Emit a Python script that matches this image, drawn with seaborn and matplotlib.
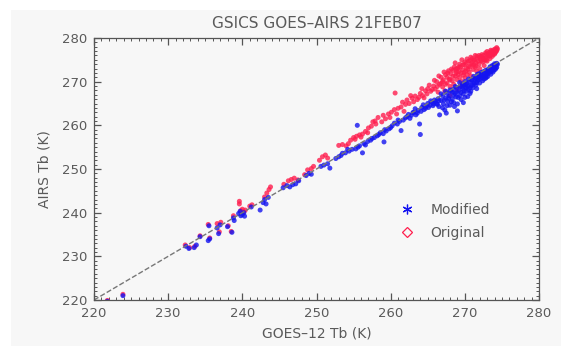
import numpy as np
import pandas as pd
import seaborn as sns
import matplotlib
matplotlib.use("Agg")
import matplotlib.pyplot as plt
from matplotlib.lines import Line2D
from matplotlib.patches import Rectangle
from matplotlib.ticker import MultipleLocator

# ---------------- data (Kelvin) ----------------
mod_x = [221.8, 223.9, 232.4, 232.8, 233.5, 233.8, 234.3, 235.4, 235.6, 235.5, 236.6, 236.8, 237.0,
         238.0, 238.6, 238.8, 238.9, 239.5, 239.8, 240.0, 240.2, 240.3, 239.7, 241.2, 242.4, 242.8,
         243.0, 243.2, 243.5, 245.5, 246.0, 246.4, 246.8, 247.2, 247.6, 248.6, 249.0, 249.3, 250.6,
         251.0, 251.5, 251.8, 252.6, 253.0, 253.5, 253.9, 254.4, 254.8, 255.3, 255.5, 255.8, 256.2,
         256.4, 256.9, 257.3, 257.8, 258.2, 258.6, 259.0, 259.1, 259.4, 259.8, 260.2, 260.5, 260.9,
         261.2, 261.4, 261.7, 262.0, 262.4, 262.8, 263.1, 263.4, 263.7, 263.9, 264.0, 264.2, 264.5,
         264.8, 265.0, 265.3, 265.6, 265.9,
         266.2, 266.4, 266.5, 266.6, 266.8, 267.0, 267.1, 267.3, 267.4, 267.6, 267.7, 267.9, 268.0,
         268.1, 268.3, 268.4, 268.5, 268.7, 268.8, 268.9, 269.0, 269.2, 269.3, 269.4, 269.5, 269.7,
         269.8, 269.9, 270.0, 270.1, 270.2, 270.3, 270.5, 270.6, 270.7, 270.8, 271.0, 271.1, 271.2,
         271.4, 271.5, 271.6, 271.7, 271.9, 272.0, 272.1, 272.2, 272.4, 272.5, 272.6, 272.8, 272.9,
         273.0, 273.1, 273.3, 273.4, 273.5, 273.6, 273.7, 273.8, 273.9, 274.0, 274.1, 274.2, 274.3,
         274.3, 274.4, 269.0, 267.5,
         274.0, 273.8, 273.6, 273.4, 273.2, 273.0, 272.8, 272.7, 272.5, 272.3, 272.2, 272.0, 271.8,
         271.7, 271.5, 271.3, 271.2, 271.0, 270.9, 270.7, 270.5, 270.4, 270.2, 270.0, 269.9, 269.7,
         269.5, 269.3, 269.1, 268.9, 268.7, 268.5, 268.3, 268.2, 268.0, 267.8, 267.6, 267.4, 267.2,
         267.0, 266.8, 266.5, 266.3, 266.0, 265.7, 274.2, 274.1, 273.9, 273.7, 273.5, 273.1, 272.9,
         272.6, 271.9, 271.6, 270.8, 270.1, 269.6, 268.6, 269.8, 270.4,
         262.2, 262.6, 263.0, 263.3, 263.6, 264.1, 264.4, 264.7, 265.1, 265.4, 265.8, 261.0, 260.0,
         259.2, 258.4, 257.5, 256.6, 255.6, 254.2, 253.3]
mod_y = [219.7, 221.0, 232.3, 231.8, 232.0, 232.6, 234.5, 233.6, 234.0, 237.0, 236.5, 235.2, 237.2,
         236.8, 235.5, 238.8, 238.2, 239.8, 239.3, 239.6, 240.0, 239.2, 240.3, 241.3, 240.6, 242.3,
         243.0, 242.0, 243.5, 245.7, 246.2, 245.9, 246.4, 246.6, 247.3, 248.5, 249.0, 248.8, 250.6,
         250.9, 251.2, 250.2, 252.4, 252.8, 253.6, 253.7, 254.1, 254.5, 254.6, 260.0, 255.3, 253.7,
         255.8, 256.3, 256.6, 257.2, 257.6, 258.3, 258.1, 256.2, 258.7, 259.2, 259.9, 260.5, 260.3,
         260.9, 258.8, 261.2, 261.7, 262.5, 262.3, 263.0, 262.4, 263.4, 260.3, 257.9, 264.1, 263.6,
         264.4, 265.0, 264.6, 265.3, 265.8,
         265.0, 266.1, 264.3, 262.4, 265.7, 266.8, 264.9, 263.5, 266.2, 267.3, 265.5, 266.7, 264.6,
         267.8, 266.0, 268.2, 265.2, 267.3, 266.5, 268.6, 264.9, 267.9, 266.8, 268.9, 265.9, 268.3,
         267.2, 269.3, 266.4, 268.7, 267.8, 269.6, 268.2, 270.0, 267.3, 269.1, 270.4, 268.6, 269.8,
         270.8, 269.2, 268.4, 270.3, 271.1, 269.7, 270.7, 271.5, 270.2, 271.2, 271.9, 270.8, 271.6,
         272.3, 271.2, 272.1, 272.7, 271.7, 272.5, 273.1, 272.2, 273.0, 273.5, 272.8, 273.8, 274.2,
         273.3, 274.0, 263.3, 262.8,
         274.1, 273.6, 273.0, 273.4, 272.6, 271.8, 272.6, 271.3, 272.3, 270.9, 272.1, 271.2, 270.4,
         271.7, 270.7, 269.6, 271.2, 269.2, 270.3, 268.6, 270.6, 269.0, 268.6, 270.0, 267.9, 269.4,
         267.5, 269.8, 266.4, 267.6, 268.9, 266.9, 267.6, 265.4, 268.1, 266.2, 264.5, 267.8, 265.8,
         264.0, 267.2, 265.6, 264.8, 265.5, 264.5, 273.1, 273.9, 272.6, 273.7, 272.3, 272.8, 271.0,
         270.6, 271.8, 269.8, 267.8, 269.4, 268.8, 264.3, 265.2, 266.6,
         262.0, 261.6, 262.9, 263.8, 262.8, 263.2, 264.7, 263.9, 264.1, 265.6, 264.9, 261.2, 259.5,
         259.0, 257.9, 257.0, 255.5, 255.0, 254.5, 253.1]

orig_x = [221.8, 223.9, 232.3, 232.9, 233.6, 234.3, 235.4, 235.6, 236.6, 236.9, 237.1, 238.1, 238.5,
          238.8, 239.6, 239.6, 239.8, 240.0, 240.2, 240.4, 241.3, 241.0, 243.0, 243.3, 243.6, 243.8,
          245.6, 246.2, 246.6, 247.0, 247.5, 248.4, 248.8, 249.3, 249.6, 250.4, 250.8, 251.2, 251.5,
          253.0, 253.5, 254.0, 254.6, 255.0, 255.4, 255.8, 256.2, 256.6, 257.0, 257.4, 257.9, 258.3,
          258.0, 258.8, 259.3, 259.7, 260.1, 260.5, 260.6, 261.0, 261.4, 261.8, 262.2, 262.5, 262.9,
          263.3, 263.6, 264.0, 264.3, 264.7, 265.0, 265.4, 265.8,
          266.0, 266.2, 266.4, 266.6, 266.8, 267.0, 267.1, 267.3, 267.4, 267.6, 267.7, 267.9, 268.0,
          268.1, 268.3, 268.4, 268.5, 268.7, 268.8, 268.9, 269.0, 269.2, 269.3, 269.4, 269.5, 269.7,
          269.8, 269.9, 270.0, 270.1, 270.2, 270.3, 270.5, 270.6, 270.7, 270.8, 271.0, 271.1, 271.2,
          271.4, 271.5, 271.6, 271.7, 271.9, 272.0, 272.1, 272.2, 272.4, 272.5, 272.6, 272.8, 272.9,
          273.0, 273.1, 273.3, 273.4, 273.5, 273.6, 273.7, 273.8, 273.9, 274.0, 274.1, 274.2, 274.3,
          274.3, 274.4, 268.0, 269.4,
          274.0, 273.8, 273.5, 273.3, 273.2, 273.0, 272.8, 272.7, 272.5, 272.3, 272.2, 272.0, 271.8,
          271.6, 271.5, 271.3, 271.2, 271.0, 270.9, 270.7, 270.5, 270.4, 270.2, 270.0, 269.9, 269.7,
          269.5, 269.3, 269.1, 269.0, 268.8, 268.6, 268.4, 268.2, 268.0, 267.8, 267.6, 267.4, 267.2,
          267.0, 266.8, 266.5, 266.3, 274.2, 274.1, 273.9, 273.6, 273.4, 272.9, 272.6, 271.9, 271.4,
          270.8, 270.3, 269.6, 268.7, 268.9, 269.2,
          262.0, 262.7, 263.1, 263.8, 264.2, 264.5, 264.9, 265.2, 265.6, 265.9, 261.6, 260.8, 259.9,
          259.0, 257.6, 256.9, 256.0, 255.2, 254.3]
orig_y = [219.9, 221.3, 232.6, 232.0, 232.3, 234.7, 237.3, 234.2, 237.5, 235.6, 237.8, 237.0, 235.7,
          239.3, 242.6, 242.0, 240.5, 240.8, 240.2, 240.6, 241.8, 241.5, 243.6, 244.5, 245.3, 245.9,
          246.5, 247.3, 247.6, 247.9, 247.5, 248.7, 249.8, 250.1, 250.6, 252.0, 252.8, 253.2, 252.5,
          255.4, 255.6, 255.3, 256.6, 257.2, 257.5, 257.8, 258.0, 258.6, 259.4, 259.8, 261.0, 261.8,
          260.3, 260.8, 261.5, 262.6, 263.0, 263.6, 267.4, 263.9, 264.2, 263.2, 265.8, 265.0, 266.2,
          266.7, 265.9, 267.3, 266.8, 267.9, 268.4, 267.8, 269.0,
          268.3, 270.0, 267.6, 269.4, 271.0, 268.8, 270.4, 267.9, 271.6, 269.7, 272.0, 270.6, 268.9,
          271.8, 270.2, 272.6, 269.4, 271.3, 272.9, 270.5, 268.2, 272.3, 271.0, 273.3, 270.1, 272.7,
          271.5, 273.9, 270.9, 272.4, 274.2, 271.6, 273.5, 272.2, 274.8, 271.3, 273.9, 272.8, 275.0,
          273.3, 274.4, 272.4, 275.4, 274.0, 273.0, 275.1, 275.8, 274.5, 276.0, 273.7, 275.4, 276.3,
          274.7, 275.9, 276.7, 275.3, 276.4, 277.0, 275.8, 276.8, 277.3, 276.3, 277.5, 276.9, 277.8,
          277.1, 277.5, 266.8, 269.0,
          277.0, 276.2, 277.2, 275.8, 276.3, 276.9, 276.6, 274.9, 275.4, 276.2, 274.8, 275.6, 274.7,
          275.8, 273.6, 274.9, 273.9, 275.3, 274.2, 273.4, 274.7, 272.8, 273.1, 274.5, 272.1, 273.8,
          272.0, 274.0, 271.6, 273.0, 271.9, 273.4, 271.2, 272.9, 270.4, 272.5, 271.0, 269.4, 272.2,
          270.0, 269.6, 271.3, 268.9, 277.3, 276.6, 276.9, 276.6, 276.0, 275.0, 275.1, 276.0, 276.0,
          275.6, 275.2, 275.0, 274.3, 272.3, 273.4,
          264.8, 266.8, 265.4, 266.4, 268.4, 266.3, 267.2, 269.2, 268.2, 270.3, 265.3, 262.6, 261.8,
          262.3, 260.8, 258.3, 257.3, 256.8, 255.8]

series_names = ["Modified", "Original"]
line_11 = [220.0, 280.0]
x_ticks = [220, 230, 240, 250, 260, 270, 280]
y_ticks = [220, 230, 240, 250, 260, 270, 280]

# ---------------- figure ----------------
sns.set_theme(style="ticks")
plt.rcParams["font.family"] = ["DejaVu Sans"]
TXT = "#5a5a5a"
BG = "#f7f7f7"
BLUE = "#1414f0"
RED = "#ff1e4e"

fig = plt.figure(figsize=(5.61, 3.46), dpi=100, facecolor="white")
fig.patches.append(Rectangle((11 / 561, 0), 1, (346 - 10) / 346, transform=fig.transFigure,
                             facecolor=BG, edgecolor="none", zorder=-10))
ax = fig.add_axes([94 / 561, (346 - 300) / 346, (539 - 94) / 561, (300 - 38) / 346])
ax.set_facecolor(BG)

df = pd.concat([
    pd.DataFrame({"x": orig_x, "y": orig_y, "series": series_names[1]}),
    pd.DataFrame({"x": mod_x, "y": mod_y, "series": series_names[0]}),
])
sns.scatterplot(data=df, x="x", y="y", hue="series",
                palette={series_names[0]: BLUE, series_names[1]: RED},
                s=13, linewidth=0, alpha=0.8, legend=False, ax=ax)
sns.lineplot(x=line_11, y=line_11, ax=ax, color="#777777", lw=1.0,
             dashes=(4, 3), linestyle="--")

ax.set_xlim(220, 280)
ax.set_ylim(220, 280)
ax.set_xticks(x_ticks)
ax.set_yticks(y_ticks)
ax.xaxis.set_minor_locator(MultipleLocator(1))
ax.yaxis.set_minor_locator(MultipleLocator(1))
ax.tick_params(which="both", direction="in", top=True, right=True, bottom=True, left=True,
               colors="#555555", labelcolor=TXT, labelsize=9.5)
ax.tick_params(which="major", length=5, width=0.9, pad=5)
ax.tick_params(which="minor", length=2.5, width=0.7)
for sp in ax.spines.values():
    sp.set_color("#555555")
    sp.set_linewidth(0.9)

ax.set_title("GSICS GOES\u2013AIRS 21FEB07", color=TXT, fontsize=11, pad=7)
ax.set_xlabel("GOES\u201312 Tb (K)", color=TXT, fontsize=10, labelpad=5)
ax.set_ylabel("AIRS Tb (K)", color=TXT, fontsize=10, labelpad=7)

handles = [
    Line2D([], [], marker=(6, 2, 0), color=BLUE, linestyle="none", markersize=7, markeredgewidth=0.9),
    Line2D([], [], marker="D", markerfacecolor="none", markeredgecolor=RED, linestyle="none",
           markersize=5, markeredgewidth=0.9),
]
leg = ax.legend(handles, series_names, loc="center left", bbox_to_anchor=(0.645, 0.30),
                frameon=False, fontsize=10, handletextpad=0.65, labelspacing=0.6)
for t in leg.get_texts():
    t.set_color(TXT)

fig.savefig("out.png", dpi=100, facecolor=fig.get_facecolor())
